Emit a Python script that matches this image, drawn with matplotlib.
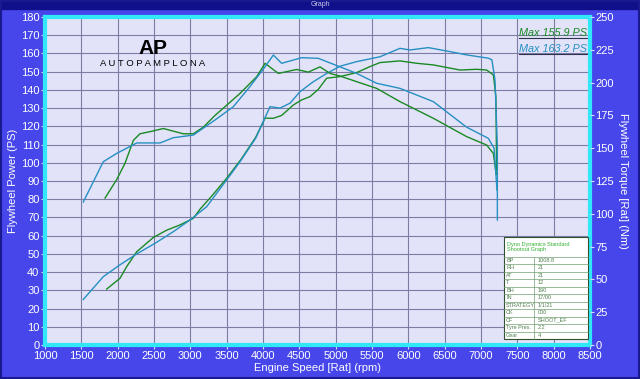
import matplotlib
matplotlib.use('Agg')
import matplotlib.pyplot as plt

plt.rcParams['font.family'] = ['Liberation Sans', 'DejaVu Sans']

# Прогон 1 (зелёный) - мощность, PS
rpm_pw_green = [1849, 2032, 2124, 2262, 2491, 2674, 2858, 3041, 3133, 3300, 3500, 3700, 3900,
                4028, 4142, 4257, 4417, 4532, 4647, 4761, 4876, 5060, 5289, 5473, 5611,
                5885, 6115, 6344, 6712, 6941, 7078, 7170, 7205, 7215]
pw_green = [30.7, 36.6, 43.0, 51.2, 59.0, 63.0, 65.9, 69.5, 74.5, 82.0, 91.5, 102.0, 114.0,
            124.5, 124.4, 126.0, 131.7, 134.5, 136.3, 140.3, 146.4, 147.3, 149.5, 152.8, 155.0,
            155.9, 154.6, 153.7, 150.9, 151.3, 150.9, 148.2, 136.3, 96.0]

# Прогон 2 (синий) - мощность, PS
rpm_pw_blue = [1527, 1802, 2032, 2262, 2514, 2766, 2995, 3225, 3500, 3684, 3900, 4097, 4234,
               4372, 4509, 4693, 4876, 5060, 5289, 5611, 5885, 6023, 6275, 6574, 6803,
               7101, 7150, 7193, 7225, 7225]
pw_blue = [25.0, 37.5, 44.0, 50.0, 55.8, 62.2, 68.6, 75.9, 90.6, 100.6, 113.5, 130.8, 130.0,
           132.7, 139.0, 144.5, 149.0, 153.0, 155.5, 158.2, 162.8, 161.9, 163.2, 161.0, 159.2,
           157.4, 156.5, 145.4, 108.8, 68.6]

# Крутящий момент, Nm
rpm_tq_green = [1826, 1986, 2101, 2216, 2307, 2445, 2628, 2766, 2903, 3041, 3178, 3340, 3546,
                3684, 3913, 4028, 4211, 4463, 4623, 4784, 4922, 5060, 5289, 5564, 5885,
                6344, 6803, 7078, 7170, 7210]
tq_green = [112.0, 126.0, 138.5, 156.0, 161.0, 162.6, 165.0, 163.0, 161.0, 161.0, 166.0, 175.0, 185.0,
            191.8, 204.5, 214.7, 207.0, 210.0, 208.0, 212.0, 207.0, 205.0, 200.7, 195.6, 185.5,
            172.8, 158.8, 152.4, 146.0, 130.0]

rpm_tq_blue = [1527, 1802, 1986, 2124, 2262, 2583, 2766, 3041, 3340, 3591, 3821, 4028, 4142,
               4257, 4532, 4761, 5014, 5289, 5564, 5885, 6344, 6803, 7101, 7180, 7220]
tq_blue = [109.0, 139.7, 146.0, 150.0, 154.0, 154.0, 158.0, 160.0, 171.5, 181.6, 197.0, 212.0, 221.0,
           214.7, 219.0, 218.5, 213.0, 207.0, 199.5, 195.6, 185.5, 166.0, 157.5, 150.0, 118.0]

x_ticks = list(range(1000, 8501, 500))
pw_ticks = list(range(0, 181, 10))
tq_ticks = list(range(0, 251, 25))

table_rows = [('BP', '1008.8'), ('RH', '21'), ('AT', '21'), ('T', '12'), ('BH', '190'),
              ('IN', '17/00'), ('STRATEGY', '1/1/21'), ('CK', '000'), ('CF', 'SHOOT_EF'),
              ('Tyre Pres.', '2.2'), ('Gear', '4')]

GREEN = '#1a8a24'
BLUE = '#2590c2'
BG = '#4646ea'
PLOT_BG = '#e2e2f8'
GRID = '#7c7ca4'
CYAN = '#30e8f8'

fig = plt.figure(figsize=(6.4, 3.79), dpi=100, facecolor=BG)

# заголовок окна и рамка
fig.patches.append(plt.Rectangle((0, 1 - 9 / 379), 1, 9 / 379, transform=fig.transFigure,
                                 color='#10108a', zorder=0))
fig.patches.append(plt.Rectangle((0.001, 0.002), 0.997, 0.996, transform=fig.transFigure,
                                 fill=False, edgecolor='#1a1a90', lw=1.5, zorder=0))
fig.text(0.5, 1 - 4.5 / 379, 'Graph', color='#c8c8e8', fontsize=5, ha='center', va='center')

ax = fig.add_axes([45 / 640, 34 / 379, 545 / 640, 328 / 379])
ax.set_facecolor(PLOT_BG)
ax.set_xlim(1000, 8500)
ax.set_ylim(0, 180)
ax.set_xticks(x_ticks)
ax.set_yticks(pw_ticks)
ax.grid(True, color=GRID, linewidth=0.8)
ax.set_axisbelow(True)
for s in ax.spines.values():
    s.set_color(CYAN)
    s.set_linewidth(3)

ax2 = ax.twinx()
ax2.set_ylim(0, 250)
ax2.set_yticks(tq_ticks)
for s in ax2.spines.values():
    s.set_visible(False)

ax.plot(rpm_pw_green, pw_green, color=GREEN, lw=1.0)
ax.plot(rpm_pw_blue, pw_blue, color=BLUE, lw=1.0)
ax2.plot(rpm_tq_green, tq_green, color=GREEN, lw=1.0)
ax2.plot(rpm_tq_blue, tq_blue, color=BLUE, lw=1.0)

for a in (ax, ax2):
    a.tick_params(colors='#d8d8ff', labelcolor='white', labelsize=8, length=3, width=0.8, pad=1)

ax.set_xlabel('Engine Speed [Rat] (rpm)', color='white', fontsize=8, labelpad=2)
ax.set_ylabel('Flywheel Power (PS)', color='white', fontsize=8, labelpad=2)
ax2.set_ylabel('Flywheel Torque [Rat] (Nm)', color='white', fontsize=8, rotation=270, labelpad=10)

# максимальные значения
ax.text(0.994, 0.952, 'Max 155.9 PS', transform=ax.transAxes, color=GREEN, fontsize=7.8,
        style='italic', ha='right', va='center')
ax.text(0.994, 0.903, 'Max 163.2 PS', transform=ax.transAxes, color=BLUE, fontsize=7.8,
        style='italic', ha='right', va='center')
ax.plot([0.87, 1.0], [0.937, 0.937], transform=ax.transAxes, color='#303050', lw=0.8)
ax.plot([0.87, 1.0], [0.888, 0.888], transform=ax.transAxes, color='#303050', lw=0.8)

# логотип
ax.text(0.198, 0.905, 'AP', transform=ax.transAxes, color='black', fontsize=15,
        fontweight='bold', ha='center', va='center')
ax.text(0.198, 0.857, 'A U T O P A M P L O N A', transform=ax.transAxes, color='black',
        fontsize=6.8, ha='center', va='center')

# таблица параметров
tx0, tx1 = (504 - 45) / 545, (588 - 45) / 545
ty_top, ty_bot = (345 - 237) / 328, (345 - 339) / 328
ax.add_patch(plt.Rectangle((tx0, ty_bot), tx1 - tx0, ty_top - ty_bot, transform=ax.transAxes,
                           facecolor='white', edgecolor='#305030', lw=0.8, zorder=5))
head_h = 0.06
ax.text(tx0 + 0.005, ty_top - head_h / 2, 'Dyno Dynamics Standard\nShootout Graph',
        transform=ax.transAxes, color='#30b030', fontsize=4, va='center', ha='left',
        zorder=6, linespacing=0.9)
row_h = (ty_top - ty_bot - head_h) / len(table_rows)
col_x = tx0 + (tx1 - tx0) * 0.36
ax.plot([col_x, col_x], [ty_bot, ty_top - head_h], transform=ax.transAxes, color='#70a070',
        lw=0.5, zorder=6)
for i, (k, v) in enumerate(table_rows):
    y_line = ty_top - head_h - i * row_h
    ax.plot([tx0, tx1], [y_line, y_line], transform=ax.transAxes, color='#70a070', lw=0.5, zorder=6)
    yc = y_line - row_h / 2
    ax.text(tx0 + 0.004, yc, k, transform=ax.transAxes, color='#508050', fontsize=4,
            va='center', zorder=7)
    ax.text(col_x + 0.006, yc, v, transform=ax.transAxes, color='#508050', fontsize=4,
            va='center', zorder=7)

fig.savefig('out.png', dpi=100, facecolor=BG)
